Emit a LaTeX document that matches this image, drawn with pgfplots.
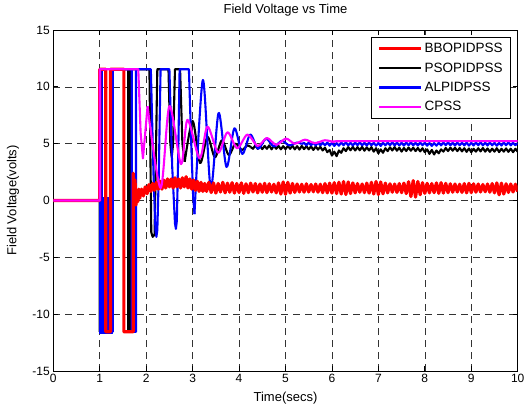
\documentclass[border=0pt]{standalone}
\usepackage{fontspec}
\setmainfont{Liberation Sans}
\usepackage{pgfplots}
\pgfplotsset{compat=1.18}
\definecolor{mgt}{RGB}{255,0,255}
\definecolor{rd}{RGB}{255,0,0}
\definecolor{bl}{RGB}{0,0,255}
\begin{document}
\begin{tikzpicture}
\begin{axis}[
  at={(0,0)}, anchor=south west,
  scale only axis, width=464.4pt, height=341pt,
  xmin=0, xmax=10, ymin=-15, ymax=15,
  xtick={0,1,2,3,4,5,6,7,8,9,10},
  ytick={-15,-10,-5,0,5,10,15},
  tick align=inside, xtick pos=both, ytick pos=both,
  major tick length=5pt,
  grid=major,
  major grid style={black!80, line width=0.5pt, dash pattern=on 7pt off 5pt},
  axis line style={line width=0.9pt},
  every tick/.style={black, line width=0.7pt},
  tick label style={font=\fontsize{12}{14}\selectfont},
  /pgf/number format/assume math mode=true,
  title={Field Voltage vs Time},
  title style={at={(axis description cs:0.5,1.040)}, anchor=center, font=\fontsize{13}{15}\selectfont},
  xlabel={Time(secs)},
  xlabel style={at={(axis description cs:0.5,-0.0792)}, anchor=center, font=\fontsize{13}{15}\selectfont},
  ylabel={Field Voltage(volts)},
  ylabel style={at={(axis description cs:-0.0868,0.5)}, anchor=center, rotate=0, font=\fontsize{13}{15}\selectfont},
  legend image code/.code={\draw[#1] (0pt,0pt) -- (42pt,0pt);},
  legend style={at={(0.986,0.980)}, anchor=north east, draw=black, line width=0.9pt,
    font=\fontsize{13.5}{15}\selectfont, inner xsep=6pt, inner ysep=4pt, row sep=4.5pt,
    /tikz/every even column/.append style={column sep=3pt}},
  legend cell align=left,
  every axis plot/.append style={line join=round},
]
\addlegendimage{rd, line width=3.2pt}
\addlegendentry{BBOPIDPSS}
\addlegendimage{black, line width=2.3pt}
\addlegendentry{PSOPIDPSS}
\addlegendimage{bl, line width=2.3pt}
\addlegendentry{ALPIDPSS}
\addlegendimage{mgt, line width=2.3pt}
\addlegendentry{CPSS}

% ---------------- PSOPIDPSS (black) ----------------
\addplot[black, line width=2.1pt, forget plot] coordinates {
(0,0)(1,0)(1,-11.55)(1.27,-11.55)(1.27,11.55)(1.61,11.55)(1.61,-11.55)(1.66,-11.55)(1.66,11.55)(2.07,11.55)(2.11,-2.8)(2.14,-3.2)(2.18,-3.0)(2.24,11.55)(2.48,11.55)(2.52,5)(2.55,3.8)(2.58,5)(2.62,11.55)(2.73,11.55)(2.78,5)(2.83,3.4)
};
\addplot[black, line width=2.1pt, smooth, forget plot] coordinates {
(2.83,3.4)(3.00,7.0)(3.16,3.3)(3.32,5.6)(3.48,3.8)(3.63,5.3)(3.78,4.0)(3.92,5.0)(4.06,4.45)(4.18,4.85)(4.25,4.7)
};
\addplot[black, line width=2.1pt, forget plot] coordinates {
(4.25,4.7)(4.30,4.55)(4.35,4.85)(4.40,4.55)(4.45,4.82)(4.50,4.52)(4.55,4.80)(4.60,4.55)(4.65,4.85)(4.70,4.50)(4.75,4.82)(4.80,4.55)(4.85,4.80)(4.90,4.50)(4.95,4.78)(5.00,4.52)(5.05,4.80)(5.10,4.55)(5.15,4.82)(5.20,4.50)(5.25,4.78)
(5.30,4.48)(5.35,4.80)(5.40,4.52)(5.45,4.78)(5.50,4.50)(5.55,4.76)(5.60,4.45)(5.65,4.75)(5.70,4.48)(5.75,4.72)(5.80,4.40)(5.85,4.65)(5.90,4.25)(5.95,4.45)(6.00,3.95)(6.05,4.30)(6.10,3.90)(6.15,4.40)(6.20,4.20)(6.25,4.60)
(6.30,4.35)(6.35,4.70)(6.40,4.42)(6.45,4.72)(6.50,4.40)(6.55,4.70)(6.60,4.42)(6.65,4.72)(6.70,4.38)(6.75,4.68)(6.80,4.40)(6.85,4.70)(6.90,4.30)(6.95,4.60)(7.00,4.15)(7.05,4.50)(7.10,4.20)(7.15,4.60)(7.20,4.35)(7.25,4.68)
(7.30,4.40)(7.35,4.70)(7.40,4.38)(7.45,4.65)(7.50,4.30)(7.55,4.62)(7.60,4.35)(7.65,4.66)(7.70,4.38)(7.75,4.65)(7.80,4.35)(7.85,4.62)(7.90,4.32)(7.95,4.60)(8.00,4.25)(8.05,4.50)(8.10,4.10)(8.15,4.45)(8.20,4.05)(8.25,4.40)
(8.30,4.15)(8.35,4.50)(8.40,4.30)(8.45,4.62)(8.50,4.35)(8.55,4.65)(8.60,4.38)(8.65,4.64)(8.70,4.35)(8.75,4.62)(8.80,4.32)(8.85,4.60)(8.90,4.28)(8.95,4.58)(9.00,4.25)(9.05,4.55)(9.10,4.30)(9.15,4.60)(9.20,4.32)(9.25,4.62)
(9.30,4.30)(9.35,4.58)(9.40,4.28)(9.45,4.56)(9.50,4.30)(9.55,4.60)(9.60,4.26)(9.65,4.55)(9.70,4.30)(9.75,4.58)(9.80,4.28)(9.85,4.56)(9.90,4.25)(9.95,4.55)(10.00,4.30)
};

% ---------------- ALPIDPSS (blue) ----------------
\addplot[draw=bl, fill=bl, line width=0.5pt, forget plot] coordinates {
(1.0,-11.7)(1.0,11.6)(1.045,11.6)(1.045,0.3)(1.275,0.3)(1.275,-11.7)
} -- cycle;
\addplot[bl, line width=2.1pt, forget plot] coordinates {
(0,0)(1,0)(1,11.55)(1.045,11.55)(1.045,-11.55)(1.28,-11.55)(1.28,11.55)(1.69,11.55)(1.69,-11.55)(1.78,-11.55)(1.78,11.55)(2.10,11.55)(2.16,2)(2.20,-2.6)(2.22,-3.2)(2.24,-2.6)(2.27,2)(2.31,11.55)(2.50,11.55)(2.56,3)(2.62,-2.0)(2.64,-2.5)(2.66,-1.8)(2.69,4)(2.72,11.55)(2.92,11.55)(2.97,5)(3.01,0.5)(3.04,-1.2)
};
\addplot[bl, line width=2.1pt, smooth, forget plot] coordinates {
(3.04,-1.2)(3.22,10.6)(3.39,1.1)(3.56,7.7)(3.73,2.95)(3.90,6.35)(4.07,4.1)(4.24,5.8)(4.41,4.55)(4.58,5.45)(4.75,4.75)(4.92,5.25)(5.08,4.85)(5.25,5.1)(5.35,4.97)
};
\addplot[bl, line width=2.1pt, forget plot] coordinates {
(5.35,4.97)(5.40,5.08)(5.45,4.85)(5.50,5.10)(5.55,4.86)(5.60,5.08)(5.65,4.84)(5.70,5.10)(5.75,4.85)(5.80,5.08)(5.85,4.86)(5.90,5.10)(5.95,4.82)(6.00,5.08)(6.05,4.80)(6.10,5.05)(6.15,4.82)(6.20,5.10)(6.25,4.86)(6.30,5.12)(6.35,4.85)
(6.40,5.08)(6.45,4.84)(6.50,5.10)(6.55,4.86)(6.60,5.12)(6.65,4.85)(6.70,5.08)(6.75,4.83)(6.80,5.10)(6.85,4.86)(6.90,5.08)(6.95,4.82)(7.00,5.06)(7.05,4.80)(7.10,5.08)(7.15,4.85)(7.20,5.10)(7.25,4.86)(7.30,5.12)(7.35,4.84)
(7.40,5.10)(7.45,4.85)(7.50,5.08)(7.55,4.83)(7.60,5.10)(7.65,4.86)(7.70,5.12)(7.75,4.85)(7.80,5.08)(7.85,4.84)(7.90,5.10)(7.95,4.86)(8.00,5.08)(8.05,4.82)(8.10,5.06)(8.15,4.80)(8.20,5.05)(8.25,4.82)(8.30,5.08)(8.35,4.85)
(8.40,5.10)(8.45,4.86)(8.50,5.12)(8.55,4.85)(8.60,5.08)(8.65,4.84)(8.70,5.10)(8.75,4.86)(8.80,5.08)(8.85,4.85)(8.90,5.10)(8.95,4.83)(9.00,5.08)(9.05,4.84)(9.10,5.10)(9.15,4.86)(9.20,5.12)(9.25,4.85)(9.30,5.08)(9.35,4.84)
(9.40,5.10)(9.45,4.86)(9.50,5.08)(9.55,4.82)(9.60,5.06)(9.65,4.84)(9.70,5.10)(9.75,4.86)(9.80,5.12)(9.85,4.85)(9.90,5.08)(9.95,4.86)(10.00,5.05)
};

% ---------------- BBOPIDPSS (red) ----------------
\addplot[rd, line width=3.2pt, forget plot] coordinates {
(0,0)(1,0)(1,11.55)(1.13,11.55)(1.13,-11.55)(1.23,-11.55)(1.23,11.55)(1.52,11.55)(1.52,-11.55)(1.72,-11.55)(1.72,2.4)
(1.74,0.9)(1.76,1.8)(1.78,-0.4)(1.80,0.8)(1.82,-0.1)(1.84,1.0)(1.86,0.2)(1.90,1.0)(1.94,0.4)(1.98,1.2)(2.02,0.6)(2.06,1.4)(2.10,0.8)(2.14,1.5)(2.18,0.9)(2.22,1.6)(2.26,1.0)(2.30,1.7)(2.34,1.0)(2.38,1.8)
(2.42,1.1)(2.46,1.9)(2.50,1.2)(2.54,1.9)(2.58,1.1)(2.62,2.0)(2.66,1.2)(2.70,1.9)(2.74,1.1)(2.78,2.0)(2.82,1.2)(2.86,2.1)(2.90,1.1)(2.94,1.9)(2.98,1.0)(3.02,1.8)(3.06,0.9)(3.10,1.7)(3.14,0.8)(3.18,1.6)(3.22,0.8)(3.26,1.5)(3.30,0.8)
(3.35,1.60)(3.40,0.70)(3.45,1.55)(3.50,0.65)(3.55,1.50)(3.60,0.75)(3.65,1.60)(3.70,0.67)(3.75,1.53)(3.80,0.73)(3.85,1.57)(3.90,0.65)(3.95,1.50)(4.00,0.70)(4.05,1.55)(4.10,0.63)(4.15,1.47)(4.20,0.69)(4.25,1.53)(4.30,0.75)
(4.35,1.49)(4.40,0.67)(4.45,1.45)(4.50,0.73)(4.55,1.51)(4.60,0.69)(4.65,1.47)(4.70,0.75)(4.75,1.43)(4.80,0.67)(4.85,1.55)(4.90,0.57)(4.95,1.63)(5.00,0.55)(5.05,1.60)(5.10,0.65)(5.15,1.50)(5.20,0.71)(5.25,1.45)(5.30,0.75)
(5.35,1.43)(5.40,0.73)(5.45,1.47)(5.50,0.75)(5.55,1.41)(5.60,0.77)(5.65,1.45)(5.70,0.73)(5.75,1.43)(5.80,0.69)(5.85,1.49)(5.90,0.67)(5.95,1.53)(6.00,0.65)(6.05,1.57)(6.10,0.61)(6.15,1.61)(6.20,0.57)(6.25,1.67)(6.30,0.53)
(6.35,1.63)(6.40,0.61)(6.45,1.55)(6.50,0.67)(6.55,1.49)(6.60,0.73)(6.65,1.45)(6.70,0.69)(6.75,1.53)(6.80,0.65)(6.85,1.60)(6.90,0.57)(6.95,1.67)(7.00,0.53)(7.05,1.63)(7.10,0.59)(7.15,1.53)(7.20,0.67)(7.25,1.47)(7.30,0.73)
(7.35,1.45)(7.40,0.71)(7.45,1.49)(7.50,0.69)(7.55,1.53)(7.60,0.61)(7.65,1.65)(7.70,0.35)(7.75,1.75)(7.80,0.30)(7.85,1.67)(7.90,0.51)(7.95,1.57)(8.00,0.63)(8.05,1.51)(8.10,0.67)(8.15,1.49)(8.20,0.69)(8.25,1.55)(8.30,0.63)
(8.35,1.57)(8.40,0.65)(8.45,1.51)(8.50,0.69)(8.55,1.47)(8.60,0.73)(8.65,1.45)(8.70,0.75)(8.75,1.43)(8.80,0.71)(8.85,1.49)(8.90,0.67)(8.95,1.51)(9.00,0.69)(9.05,1.47)(9.10,0.73)(9.15,1.45)(9.20,0.75)(9.25,1.41)(9.30,0.77)
(9.35,1.45)(9.40,0.73)(9.45,1.49)(9.50,0.67)(9.55,1.55)(9.60,0.50)(9.65,1.53)(9.70,0.57)(9.75,1.47)(9.80,0.71)(9.85,1.45)(9.90,0.75)(9.95,1.43)(10.00,0.79)
};

% ---------------- CPSS (magenta) ----------------
\addplot[mgt, line width=2.1pt, forget plot] coordinates {
(0,0)(1,0)(1,11.55)(1.83,11.55)(1.88,6)(1.93,3.7)(1.97,5.5)(2.03,8.3)
};
\addplot[mgt, line width=2.1pt, smooth, forget plot] coordinates {
(2.03,8.3)(2.31,1.1)(2.50,8.3)(2.75,3.2)(2.89,7.1)(3.15,3.7)(3.32,6.5)(3.55,4.2)(3.75,6.0)(3.96,4.6)(4.18,5.8)(4.40,4.8)(4.60,5.5)(4.80,4.9)(5.01,5.45)(5.20,5.0)(5.42,5.35)(5.63,5.05)(5.85,5.3)(6.05,5.15)(6.30,5.22)(10,5.22)
};
\end{axis}
\pgfresetboundingbox
\path[use as bounding box] (-53.3pt,-37pt) rectangle (474.7pt,371pt);
\end{tikzpicture}
\end{document}
